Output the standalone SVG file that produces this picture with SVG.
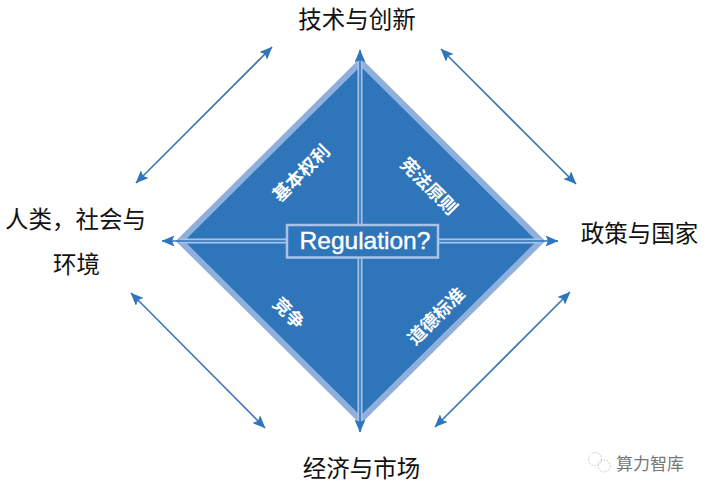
<svg xmlns="http://www.w3.org/2000/svg" width="706" height="494" viewBox="0 0 706 494">
<style>
.cjk{font-family:"Noto Sans CJK SC","Noto Sans",sans-serif}
.lab{font-size:23.5px;fill:#111;text-anchor:middle;dominant-baseline:central}
.in{font-size:18px;font-weight:700;fill:#fff;text-anchor:middle;dominant-baseline:central}
.arr{fill:none;stroke:#3a76b8;stroke-width:1.6;marker-start:url(#h);marker-end:url(#h)}
.axis{fill:none;stroke:#2e75ba;stroke-width:1.6;marker-start:url(#h);marker-end:url(#h)}
.div{fill:none;stroke:#a9c3e6;stroke-width:5}
</style>
<defs>
<marker id="h" viewBox="0 0 13 11" refX="12.500" refY="5.500" markerWidth="13" markerHeight="11" markerUnits="userSpaceOnUse" orient="auto-start-reverse">
<path d="M0 0L13 5.500L0 11L2.500 5.500Z" fill="#2e75ba"/>
</marker>
</defs>
<rect width="706" height="494" fill="#fff"/>
<g id="diamond">
<path d="M360.500 62L541 241L360.500 420L180 241Z" fill="#2e75ba" stroke="#8fb0dc" stroke-width="6" stroke-linejoin="miter"/>
</g>
<g id="connectors">
<path class="div" d="M360 60V423M180 241H541"/>
<path class="arr" d="M136 183L272 47"/>
<path class="arr" d="M441 49L576 184"/>
<path class="arr" d="M131 293L265 428"/>
<path class="arr" d="M435 427L570 292"/>
<path class="axis" d="M360 50V432"/>
<path class="axis" d="M162 241H558"/>
</g>
<g id="regulation">
<rect x="287" y="225" width="151" height="32.500" fill="#2e75ba" stroke="#a9c3e6" stroke-width="2.500"/>
<text x="365" y="240" font-family="Liberation Sans, Arial, sans-serif" font-size="24.500" fill="#fff" stroke="#fff" stroke-width="0.400" text-anchor="middle" dominant-baseline="central">Regulation?</text>
</g>
<g id="label-tech"><text class="cjk lab" x="357" y="18">技术与创新</text></g>
<g id="label-society"><text class="cjk lab" x="75.500" y="218">人类，社会与</text><text class="cjk lab" x="76.500" y="263">环境</text></g>
<g id="label-policy"><text class="cjk lab" x="639.500" y="232">政策与国家</text></g>
<g id="label-economy"><text class="cjk lab" x="361.500" y="467">经济与市场</text></g>
<g id="q-rights"><text class="cjk in" transform="translate(300 172) rotate(-45)">基本权利</text></g>
<g id="q-constitution"><text class="cjk in" transform="translate(430 185) rotate(45)">宪法原则</text></g>
<g id="q-competition"><text class="cjk in" transform="translate(290 312) rotate(45)">竞争</text></g>
<g id="q-ethics"><text class="cjk in" transform="translate(435 315) rotate(-45)">道德标准</text></g>
<g id="watermark">
<g fill="none" stroke="#c4c4c4" stroke-width="1" stroke-dasharray="1.500 1.500">
<circle cx="595" cy="459" r="6.500"/><circle cx="604" cy="466" r="6"/>
</g>
<text class="cjk" x="650" y="462" font-size="17" fill="#777" text-anchor="middle" dominant-baseline="central">算力智库</text>
</g>
</svg>
